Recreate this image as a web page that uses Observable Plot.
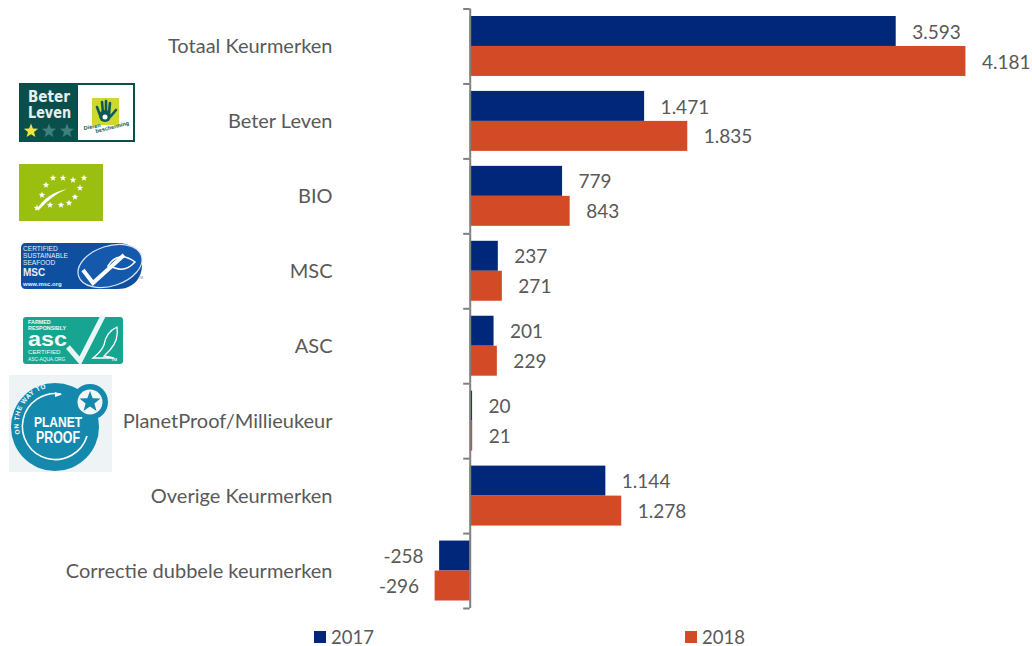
<!DOCTYPE html>
<html><head><meta charset="utf-8">
<script src="https://cdn.jsdelivr.net/npm/d3@7"></script>
<script src="https://cdn.jsdelivr.net/npm/@observablehq/plot@0.6"></script>
<style>
html,body{margin:0;padding:0;background:#fff}
#page{position:relative;width:1032px;height:646px;font-family:Lato,"Open Sans",sans-serif;color:#595959}
#logos{position:absolute;left:0;top:0;pointer-events:none}
.lg{position:absolute;top:628px;font-size:18.5px;line-height:18px;height:18px;display:flex;align-items:center}
.lg i{display:inline-block;width:12px;height:12px;margin-right:5px}
</style></head><body><div id="page"></div>
<script>
const categories = ["Totaal Keurmerken","Beter Leven","BIO","MSC","ASC","PlanetProof/Millieukeur","Overige Keurmerken","Correctie dubbele keurmerken"];
const years = ["2017","2018"];
const values2017 = [3593,1471,779,237,201,20,1144,-258];
const values2018 = [4181,1835,843,271,229,21,1278,-296];
const colors = ["#00277a","#d34a27"];

const rows = categories.flatMap((c,i)=>[
  {cat:c,year:years[0],value:values2017[i]},
  {cat:c,year:years[1],value:values2018[i]}
]);
const nl = d3.formatLocale({decimal:",",thousands:".",grouping:[3],currency:["",""],minus:"-"}).format(",d");
const ink = "#595959", axisInk = "#7f7f7f";
const fontSize = 19, catFontSize = 20;

const chart = Plot.plot({
  width:1032, height:620, marginTop:8.5, marginBottom:12, marginLeft:340, marginRight:20,
  style:{fontFamily:"Lato, 'Open Sans', sans-serif",fontSize:fontSize+"px",color:ink,background:"transparent"},
  x:{domain:[-1094,4573.8],axis:null},
  y:{domain:years,axis:null,paddingInner:0,paddingOuter:0.25,round:false},
  fy:{domain:categories,axis:null,padding:0,label:null,round:false},
  color:{domain:years,range:colors},
  marks:[
    Plot.barX(rows,{x:"value",y:"year",fy:"cat",fill:"year"}),
    Plot.ruleX([0],{stroke:axisInk,strokeWidth:2}),
    Plot.ruleY(categories,{fy:d=>d,y:()=>years[0],x1:-55,x2:0,dy:-22.46,stroke:axisInk,strokeWidth:2}),
    Plot.ruleY(categories.slice(-1),{fy:d=>d,y:()=>years[1],x1:-55,x2:0,dy:22.46,stroke:axisInk,strokeWidth:2}),
    Plot.text(rows.filter(d=>d.value>=0),{x:"value",y:"year",fy:"cat",text:d=>nl(d.value),textAnchor:"start",dx:16,dy:1,fill:ink,fontSize}),
    Plot.text(rows.filter(d=>d.value<0),{x:"value",y:"year",fy:"cat",text:d=>nl(d.value),textAnchor:"end",dx:-16,dy:1,fill:ink,fontSize}),
    Plot.axisFy({anchor:"left",tickSize:0,tickPadding:8,label:null,fontSize:catFontSize,color:ink,dy:0.5})
  ]
});
const page = document.getElementById("page");
page.appendChild(chart);

[[years[0],colors[0],314],[years[1],colors[1],685]].forEach(([t,c,l])=>{
  const d=document.createElement("div");d.className="lg";d.style.left=l+"px";
  d.innerHTML=`<i style="background:${c}"></i><span>${t}</span>`;page.appendChild(d);
});

/* logo decorations */
function star(cx,cy,r,fill){
  let p=[];for(let i=0;i<10;i++){const a=-Math.PI/2+i*Math.PI/5,q=i%2?r*0.42:r;p.push((cx+q*Math.cos(a)).toFixed(1)+","+(cy+q*Math.sin(a)).toFixed(1));}
  return `<polygon points="${p.join(" ")}" fill="${fill}"/>`;
}
const bioStars=[[53,178],[63,178],[73,180],[84,178],[80,188],[75,197],[69,203],[61,205],[50,205],[42,195],[46,185],[37,208]];
const sans="font-family:'DejaVu Sans',sans-serif";
const arial="font-family:'Liberation Sans',sans-serif";
document.getElementById("page").insertAdjacentHTML("beforeend",`
<svg id="logos" width="1032" height="646" viewBox="0 0 1032 646">
 <g>
  <rect x="19" y="83" width="116" height="59" fill="#0b4f4c"/>
  <rect x="78" y="85" width="55" height="55" fill="#fff"/>
  <text x="28" y="102" fill="#e6efee" textLength="42" lengthAdjust="spacingAndGlyphs" style="${sans};font-weight:bold;font-size:15.5px">Beter</text>
  <text x="28" y="118" fill="#e6efee" textLength="43" lengthAdjust="spacingAndGlyphs" style="${sans};font-weight:bold;font-size:15.5px">Leven</text>
  ${star(31,131,7.5,"#f0e63c")}${star(49,131,7.5,"#3f807c")}${star(67,131,7.5,"#3f807c")}
  <rect x="92" y="98" width="27" height="27" fill="#cdd92b"/>
  <g stroke="#0d5a57" stroke-width="2.6" stroke-linecap="round" fill="none">
   <path d="M100 115L97 107M103 113L102 102M106 113L106 101M109 113L110 103M111 116L116 110"/>
  </g>
  <circle cx="105" cy="116" r="6" fill="#0d5a57"/><circle cx="105" cy="117" r="2.5" fill="#fff"/>
  <text transform="translate(84 130) rotate(-10)" fill="#0d5a57" style="${arial};font-weight:bold;font-size:5.5px">Dieren</text>
  <text transform="translate(96 133) rotate(-14)" fill="#0d5a57" style="${arial};font-weight:bold;font-size:5.5px">bescherming</text>
 </g>
 <g>
  <rect x="19" y="164" width="84" height="57" fill="#9bbf0e"/>
  ${bioStars.map(s=>star(s[0],s[1],3.4,"#fff")).join("")}
  <path d="M37 209Q47 193 67 189Q52 195 39 210Z" fill="#fff"/>
 </g>
 <g>
  <path d="M26 243H118C134 243 142 254 142 265C142 278 133 289 118 289H26Q21 289 21 284V248Q21 243 26 243Z" fill="#0f4f9f"/>
  <ellipse cx="110" cy="266" rx="33" ry="20" transform="rotate(-18 110 266)" fill="#1459ab" stroke="#d7e4f2" stroke-width="1.2"/>
  <path d="M83 270L93 283L124 255" fill="none" stroke="#fff" stroke-width="4"/>
  <path d="M108 266Q118 250 135 262Q126 272 115 268Z" fill="none" stroke="#fff" stroke-width="1.5"/>
  <g fill="#e8eef7" style="${arial};font-size:6.6px">
   <text x="23" y="251">CERTIFIED</text><text x="23" y="258">SUSTAINABLE</text><text x="23" y="265">SEAFOOD</text>
   <text x="23" y="276" style="font-weight:bold;font-size:10px">MSC</text>
   <text x="23" y="286" style="font-weight:bold;font-size:6px">www.msc.org</text>
  </g>
  <text x="138" y="279" fill="#888" style="${arial};font-size:3.5px">TM</text>
 </g>
 <g>
  <rect x="23" y="317" width="100" height="47" rx="3" fill="#17a592"/>
  <path d="M68 347L80 361L103 316" fill="none" stroke="#e8f7f5" stroke-width="5"/>
  <path d="M93 358Q101 352 104 345Q106 332 117 327Q119 340 110 350L104 356L114 358Z" fill="none" stroke="#fff" stroke-width="1.3"/>
  <g fill="#f0faf8" style="${arial}">
   <text x="28" y="324" style="font-weight:bold;font-size:5.4px">FARMED</text>
   <text x="28" y="330" style="font-weight:bold;font-size:5.4px">RESPONSIBLY</text>
   <text x="28" y="346" textLength="39" lengthAdjust="spacingAndGlyphs" style="font-weight:bold;font-size:21px">asc</text>
   <text x="28" y="354" style="font-size:6.2px">CERTIFIED</text>
   <text x="28" y="361" style="font-size:4.8px">ASC-AQUA.ORG</text>
   <text x="111" y="361" style="font-weight:bold;font-size:4.2px">TM</text>
  </g>
 </g>
 <g>
  <rect x="9" y="375" width="103" height="97" fill="#eef3f5"/>
  <circle cx="55" cy="427" r="44" fill="#1589ad"/>
  <circle cx="90" cy="402" r="18" fill="#1589ad"/>
  <circle cx="90" cy="402" r="12.5" fill="#f2f6f7"/>
  ${star(90,402,11,"#1589ad")}
  <path d="M61 394A33 33 0 1 0 87 436" fill="none" stroke="#fff" stroke-width="1.6"/>
  <path d="M55 392L62 394.5L55 397Z" fill="#fff"/>
  <path id="ppText" d="M20 434A37 37 0 0 1 56 387" fill="none"/>
  <text fill="#fff" style="${arial};font-weight:bold;font-size:6.5px;letter-spacing:.6px"><textPath href="#ppText">ON THE WAY TO</textPath></text>
  <text x="58" y="427" text-anchor="middle" fill="#fff" textLength="48" lengthAdjust="spacingAndGlyphs" style="${arial};font-weight:bold;font-size:15.5px">PLANET</text>
  <text x="58" y="443" text-anchor="middle" fill="#fff" textLength="44" lengthAdjust="spacingAndGlyphs" style="${arial};font-weight:bold;font-size:16px">PROOF</text>
 </g>
</svg>`);
</script></body></html>
